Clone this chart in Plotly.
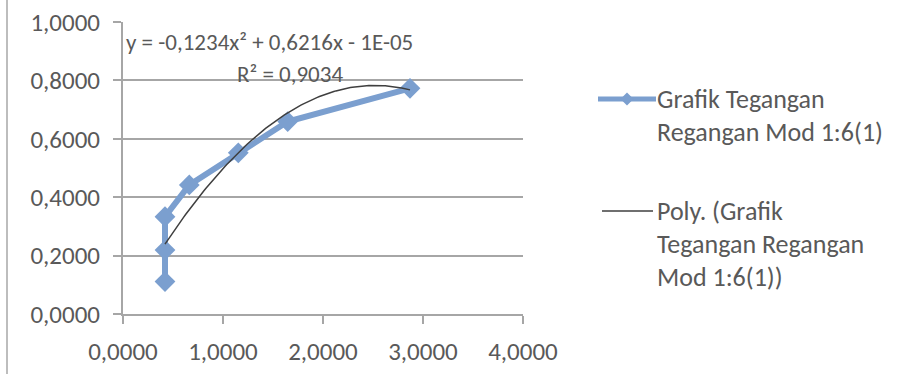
import numpy as np
import plotly.graph_objects as go

# Stress-strain readings, model 1:6 (1)
strain = [0.42, 0.42, 0.42, 0.663, 1.153, 1.647, 2.87]
stress = [0.111, 0.219, 0.333, 0.442, 0.552, 0.659, 0.773]

# Second-order polynomial trendline coefficients (as shown in the label)
coef_a = -0.1234
coef_b = 0.6216
coef_c = -0.00001
eq_text = "y = -0,1234x² + 0,6216x - 1E-05"
r2_text = "R² = 0,9034"

x_ticks = [0, 1, 2, 3, 4]
x_ticktext = ["0,0000", "1,0000", "2,0000", "3,0000", "4,0000"]
y_ticks = [0, 0.2, 0.4, 0.6, 0.8, 1.0]
y_ticktext = ["0,0000", "0,2000", "0,4000", "0,6000", "0,8000", "1,0000"]

series_name = "Grafik Tegangan Regangan Mod 1:6(1)"
trend_name = "Poly. (Grafik Tegangan Regangan Mod 1:6(1))"

W, H = 903, 374
ML, MR, MT, MB = 123, 380, 22, 60
PW, PH = W - ML - MR, H - MT - MB

FONT = "Carlito, Calibri, Lato, sans-serif"
TXT = "#595959"
BLUE = "#7b9fcf"
GRID = "#a6a6a6"
TICK_SIZE = 25
LEG_SIZE = 26
EQ_SIZE = 23


def px(xp):
    return (xp - ML) / PW


def py(yp):
    return (H - MB - yp) / PH


trend_x = np.linspace(min(strain), max(strain), 120)
trend_y = coef_a * trend_x ** 2 + coef_b * trend_x + coef_c

fig = go.Figure()
fig.add_trace(go.Scatter(
    x=strain, y=stress, mode="lines+markers", name=series_name,
    line=dict(color=BLUE, width=6),
    marker=dict(symbol="diamond", size=16, color=BLUE),
    showlegend=False,
))
fig.add_trace(go.Scatter(
    x=trend_x, y=trend_y, mode="lines", name=trend_name,
    line=dict(color="#3f3f3f", width=1.5), showlegend=False,
))

shapes = []
annotations = []

# chart frame edge on the left
shapes.append(dict(type="line", xref="paper", yref="paper",
                   x0=px(7), x1=px(7), y0=py(H), y1=py(0),
                   line=dict(color="#bdbdbd", width=2)))

# trendline equation label
annotations.append(dict(
    xref="paper", yref="paper", x=px(124), y=py(42), xanchor="left", yanchor="middle",
    text=eq_text, showarrow=False, font=dict(family=FONT, size=EQ_SIZE, color=TXT)))
annotations.append(dict(
    xref="paper", yref="paper", x=px(290), y=py(74), xanchor="center", yanchor="middle",
    text=r2_text, showarrow=False, font=dict(family=FONT, size=EQ_SIZE, color=TXT)))

# legend: series with diamond
ly1 = 99
shapes.append(dict(type="line", xref="paper", yref="paper",
                   x0=px(598), x1=px(656), y0=py(ly1), y1=py(ly1),
                   line=dict(color=BLUE, width=5)))
d = 6.5
shapes.append(dict(type="path", xref="paper", yref="paper",
                   path="M %f %f L %f %f L %f %f L %f %f Z" % (
                       px(627 - d), py(ly1), px(627), py(ly1 - d),
                       px(627 + d), py(ly1), px(627), py(ly1 + d)),
                   fillcolor=BLUE, line=dict(width=0)))
# legend: trendline
ly2 = 211
shapes.append(dict(type="line", xref="paper", yref="paper",
                   x0=px(602), x1=px(653), y0=py(ly2), y1=py(ly2),
                   line=dict(color="#3f3f3f", width=1.5)))

legend_lines = [
    ("Grafik Tegangan", 99),
    ("Regangan Mod 1:6(1)", 132),
    ("Poly. (Grafik", 211),
    ("Tegangan Regangan", 244),
    ("Mod 1:6(1))", 277),
]
for txt, yy in legend_lines:
    annotations.append(dict(
        xref="paper", yref="paper", x=px(655), y=py(yy), xanchor="left", yanchor="middle",
        text=txt, showarrow=False, font=dict(family=FONT, size=LEG_SIZE, color=TXT)))

fig.update_layout(
    width=W, height=H,
    margin=dict(l=ML, r=MR, t=MT, b=MB, pad=0),
    paper_bgcolor="white", plot_bgcolor="white",
    font=dict(family=FONT, size=TICK_SIZE, color=TXT),
    shapes=shapes, annotations=annotations,
    xaxis=dict(range=[0, 4], tickvals=x_ticks, ticktext=x_ticktext, automargin=False,
               showgrid=False, zeroline=False, showline=True, linecolor=GRID, linewidth=2,
               ticks="outside", ticklen=8, tickwidth=2, tickcolor=GRID,
               ticklabelstandoff=6,
               tickfont=dict(family=FONT, size=TICK_SIZE, color=TXT)),
    yaxis=dict(range=[0, 1], tickvals=y_ticks, ticktext=y_ticktext, automargin=False,
               showgrid=True, gridcolor=GRID, gridwidth=2, zeroline=False,
               showline=True, linecolor=GRID, linewidth=2,
               ticks="outside", ticklen=8, tickwidth=2, tickcolor=GRID,
               ticklabelstandoff=8,
               tickfont=dict(family=FONT, size=TICK_SIZE, color=TXT)),
    showlegend=False,
)

fig.write_html("out.html")
